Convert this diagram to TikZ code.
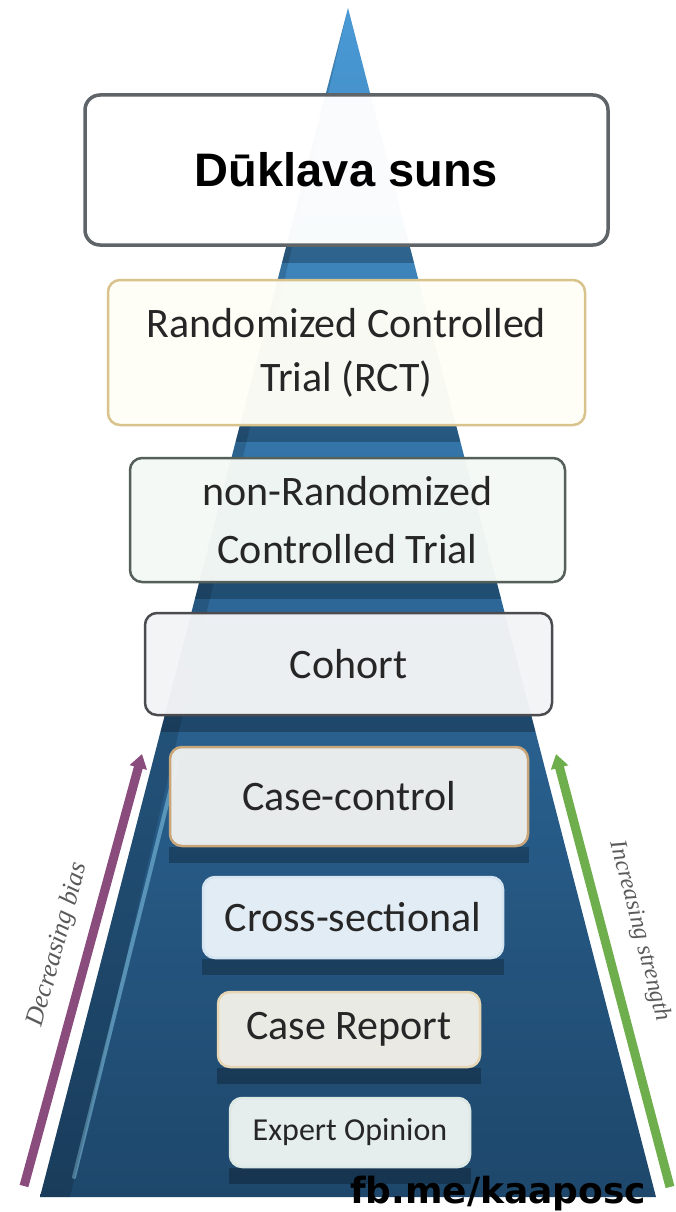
\documentclass[tikz,border=0pt]{standalone}
\usepackage{fontspec}
\newfontfamily\boxfont{Carlito}
\newfontfamily\headfont{Liberation Sans}
\newfontfamily\tagfont{DejaVu Sans}
\newfontfamily\trendfont{Liberation Serif}
\usetikzlibrary{arrows.meta,backgrounds}

\definecolor{pyrtop}{HTML}{4A9AD6}
\definecolor{pyrmid}{HTML}{2C6798}
\definecolor{pyrbot}{HTML}{1E476B}
\definecolor{biascolor}{HTML}{8A4C7C}
\definecolor{strengthcolor}{HTML}{6FAE4C}
\definecolor{labelgray}{HTML}{5A5A5A}
\definecolor{titleedge}{HTML}{5E6468}
\definecolor{rctedge}{HTML}{D8C38C}
\definecolor{rctfill}{HTML}{FFFEF6}
\definecolor{nrctedge}{HTML}{56605A}
\definecolor{nrctfill}{HTML}{F5F9F5}
\definecolor{cohortedge}{HTML}{4C4C50}
\definecolor{cohortfill}{HTML}{F3F4F6}
\definecolor{ccedge}{HTML}{C9A679}
\definecolor{ccfill}{HTML}{EEF0F0}
\definecolor{crossedge}{HTML}{D4E4F0}
\definecolor{crossfill}{HTML}{E9F1F8}
\definecolor{reportedge}{HTML}{E6D6B4}
\definecolor{reportfill}{HTML}{F1EFE8}
\definecolor{expertedge}{HTML}{DCE8E4}
\definecolor{expertfill}{HTML}{EDF3F2}

\tikzset{
  level/.style={draw, line width=2.5pt, rounded corners=12pt, inner sep=0pt,
    fill opacity=0.97, text opacity=1, align=center, text=black!85,
    font=\boxfont\fontsize{42}{54}\selectfont},
  trend/.style={line width=9pt, -{Triangle[width=17pt,length=14pt]}},
  trendlabel/.style={sloped, above=11pt, text=labelgray,
    font=\trendfont\itshape\fontsize{26}{30}\selectfont}
}

\begin{document}
\begin{tikzpicture}[x=1pt,y=-1pt]

    \useasboundingbox (0,0) rectangle (676,1212);

    % pyramid corners
    \coordinate (apex)  at (348,8);
    \coordinate (baseL) at (40,1197);
    \coordinate (baseR) at (656,1197);

    % the levels, top to bottom
    \node[level, draw=titleedge, line width=3.5pt, rounded corners=15pt, fill=white,
          minimum width=523, minimum height=150,
          font=\headfont\bfseries\fontsize{47}{56}\selectfont, text=black]
          (title) at (346.5,170) {Dūklava suns};
    \node[level, draw=rctedge, fill=rctfill,
          minimum width=477, minimum height=145] (rct) at (346.5,352.5)
          {Randomized Controlled\\Trial (RCT)};
    \node[level, draw=nrctedge, fill=nrctfill,
          minimum width=435, minimum height=124, font=\boxfont\fontsize{42}{58}\selectfont]
          (nrct) at (347.5,520) {non-Randomized\\Controlled Trial};
    \node[level, draw=cohortedge, fill=cohortfill,
          minimum width=407, minimum height=102] (cohort) at (348.5,664) {Cohort};
    \node[level, draw=ccedge, fill=ccfill,
          minimum width=358, minimum height=99] (cc) at (349,796.5) {Case-control};
    \node[level, draw=crossedge, fill=crossfill,
          minimum width=300, minimum height=81] (cross) at (353,917.5) {Cross-sectional};
    \node[level, draw=reportedge, fill=reportfill,
          minimum width=262, minimum height=75] (report) at (349,1029.5) {Case Report};
    \node[level, draw=expertedge, fill=expertfill,
          minimum width=240, minimum height=69, font=\boxfont\fontsize{32}{38}\selectfont]
          (expert) at (350,1132.5) {Expert Opinion};

    % side arrows
    \coordinate (biastail) at (24,1186);
    \coordinate (biastip)  at (142,754);
    \coordinate (strtail)  at (670,1187);
    \coordinate (strtip)   at (556,754);

    \draw[trend, biascolor] (biastail) -- (biastip)
        node[trendlabel, pos=0.54] (biaslabel) {Decreasing bias};
    \draw[trend, strengthcolor] (strtail) -- (strtip)
        node[trendlabel, pos=0.57, above=6pt, font=\trendfont\itshape\fontsize{24}{28}\selectfont]
        (strlabel) {Increasing strength};

    % watermark
    \node[anchor=base west, inner sep=0pt, text=black,
          font=\tagfont\bfseries\fontsize{36}{40}\selectfont]
          (tag) at (350,1203) {fb.me/kaaposc};

    \begin{pgfonlayer}{background}
        \fill[white] (0,0) rectangle (676,1212);
        \shade[top color=pyrtop, bottom color=pyrbot, middle color=pyrmid]
            (apex) -- (baseR) -- (baseL) -- cycle;
        \begin{scope}
            \clip (apex) -- (baseR) -- (baseL) -- cycle;
            % dark band under each level
            \foreach \b in {title,rct,nrct,cohort,cc,cross,report,expert}
                \fill[black, opacity=0.25] (\b.south west) rectangle ([yshift=-16pt]\b.south east);
            % light edge on the left face
            \draw[cyan!40!white, line width=4pt, opacity=0.45, line cap=round]
                (74,1177) -- (178,760);
            \fill[black, opacity=0.15] (apex) -- (baseL) -- (70,1197) -- cycle;
        \end{scope}
    \end{pgfonlayer}

\end{tikzpicture}
\end{document}
